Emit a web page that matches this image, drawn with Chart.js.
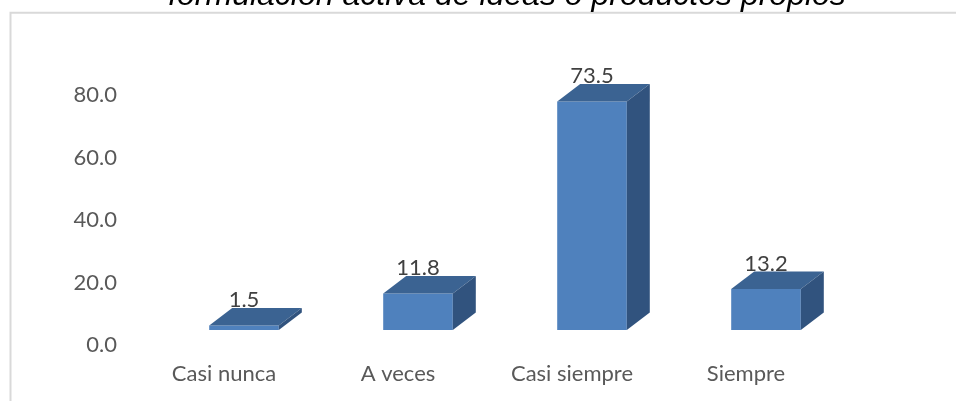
<!DOCTYPE html>
<html>
<head>
<meta charset="utf-8">
<script src="https://cdn.jsdelivr.net/npm/chart.js@4"></script>
<style>
    body { margin: 0; background: #fff; }
    #wrap { position: relative; width: 956px; height: 401px; overflow: hidden; }
</style>
</head>
<body>
<div id="wrap"><canvas id="chart" width="956" height="401"></canvas></div>
<script>
// Chart data
const chartTitle = 'formulación activa de ideas o productos propios';
const categories = ['Casi nunca', 'A veces', 'Casi siempre', 'Siempre'];
const percentValues = [1.5, 11.8, 73.5, 13.2];
const yTicks = [0, 20, 40, 60, 80];

const FRONT = '#4f81bd';
const TOP = '#3b6392';
const SIDE = '#31537e';
const DEPTH_X = 23;
const DEPTH_Y = 17.5;
const FONT = 'Lato, "Open Sans", sans-serif';

// Draws the top and side faces of each bar, plus the value labels
const boxPlugin = {
    id: 'box3d',
    afterDatasetsDraw(chart) {
        const ctx = chart.ctx;
        const meta = chart.getDatasetMeta(0);
        ctx.save();
        meta.data.forEach((bar, i) => {
            const { x, y, width, base } = bar.getProps(['x', 'y', 'width', 'base'], true);
            const left = x - width / 2;
            const right = x + width / 2;

            ctx.fillStyle = TOP;
            ctx.beginPath();
            ctx.moveTo(left, y);
            ctx.lineTo(left + DEPTH_X, y - DEPTH_Y);
            ctx.lineTo(right + DEPTH_X, y - DEPTH_Y);
            ctx.lineTo(right, y);
            ctx.closePath();
            ctx.fill();

            ctx.fillStyle = SIDE;
            ctx.beginPath();
            ctx.moveTo(right, y);
            ctx.lineTo(right + DEPTH_X, y - DEPTH_Y);
            ctx.lineTo(right + DEPTH_X, base - DEPTH_Y);
            ctx.lineTo(right, base);
            ctx.closePath();
            ctx.fill();

            ctx.fillStyle = '#404040';
            ctx.font = '22px ' + FONT;
            ctx.textAlign = 'center';
            ctx.textBaseline = 'alphabetic';
            ctx.fillText(percentValues[i].toFixed(1), x, y - DEPTH_Y - 1);
        });
        ctx.restore();
    },
    afterDraw(chart) {
        const ctx = chart.ctx;
        ctx.save();
        // outer frame, only the left and top edges are in view
        ctx.strokeStyle = '#d9d9d9';
        ctx.lineWidth = 2;
        ctx.beginPath();
        ctx.moveTo(10.5, 401);
        ctx.lineTo(10.5, 12.7);
        ctx.lineTo(956, 12.7);
        ctx.stroke();

        // title, cut off by the top edge
        ctx.fillStyle = '#000';
        ctx.font = 'italic 32px "Liberation Sans", Arial, sans-serif';
        ctx.textAlign = 'center';
        ctx.textBaseline = 'alphabetic';
        ctx.fillText(chartTitle, 507, 5);
        ctx.restore();
    }
};

function initializeChart() {
    const ctx = document.getElementById('chart').getContext('2d');
    return new Chart(ctx, {
        type: 'bar',
        data: {
            labels: categories,
            datasets: [{
                data: percentValues,
                backgroundColor: FRONT,
                borderWidth: 0,
                yAxisID: 'yBar',
                categoryPercentage: 1.0,
                barPercentage: 0.4
            }]
        },
        options: {
            responsive: false,
            animation: false,
            layout: {
                padding: { left: 0, right: 103, top: 95, bottom: 0 }
            },
            plugins: {
                legend: { display: false },
                tooltip: { enabled: false }
            },
            scales: {
                x: {
                    grid: { display: false, drawTicks: false },
                    border: { display: false },
                    ticks: {
                        color: '#595959',
                        font: { family: FONT, size: 22 },
                        padding: 16,
                        labelOffset: -20
                    },
                    afterFit: (scale) => { scale.height = 56; }
                },
                y: {
                    position: 'left',
                    min: 0,
                    max: 80,
                    grid: { display: false, drawTicks: false },
                    border: { display: false },
                    afterBuildTicks: (scale) => {
                        scale.ticks = yTicks.map(v => ({ value: v }));
                    },
                    ticks: {
                        color: '#595959',
                        font: { family: FONT, size: 22 },
                        padding: 40,
                        callback: (v) => Number(v).toFixed(1)
                    },
                    afterFit: (scale) => { scale.width = 157; }
                },
                yBar: {
                    display: false,
                    min: -4.8,
                    max: 75.6
                }
            }
        },
        plugins: [boxPlugin]
    });
}

document.addEventListener('DOMContentLoaded', () => {
    initializeChart();
});
</script>
</body>
</html>
